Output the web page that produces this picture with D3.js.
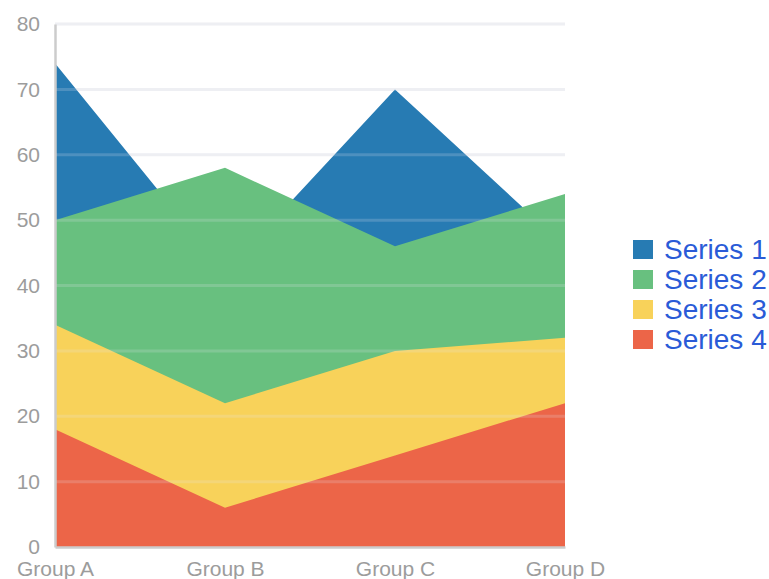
<!DOCTYPE html>
<html>
<head>
<meta charset="utf-8">
<script src="https://cdn.jsdelivr.net/npm/d3@7"></script>
<style>
  html, body { margin: 0; padding: 0; background: #fff; }
  svg { display: block; font-family: "Liberation Sans", Arial, sans-serif; }
</style>
</head>
<body>
<svg id="chart" width="769" height="579"></svg>
<script>
// Categories and series values
const categories = ["Group A", "Group B", "Group C", "Group D"];
const seriesNames = ["Series 1", "Series 2", "Series 3", "Series 4"];
const series1 = [74, 42, 70, 46];
const series2 = [50, 58, 46, 54];
const series3 = [34, 22, 30, 32];
const series4 = [18, 6, 14, 22];
const yTicks = [0, 10, 20, 30, 40, 50, 60, 70, 80];

const colors = ["#277bb3", "#68c07f", "#f8d25a", "#ec6548"];
const allSeries = [series1, series2, series3, series4];

const svg = d3.select("#chart");
const margin = { left: 55, top: 24, right: 204, bottom: 32 };
const W = 769, H = 579;
const innerW = W - margin.left - margin.right;
const innerH = H - margin.top - margin.bottom;

const x = d3.scalePoint().domain(categories).range([0, innerW]);
const y = d3.scaleLinear().domain([0, 80]).range([innerH, 0]);

const g = svg.append("g").attr("transform", `translate(${margin.left},${margin.top})`);

// Background gridlines
g.append("g").selectAll("line").data(yTicks.filter(d => d > 0)).join("line")
  .attr("x1", 0).attr("x2", innerW)
  .attr("y1", d => y(d)).attr("y2", d => y(d))
  .attr("stroke", "#f1f2f4").attr("stroke-width", 3);

// Overlapping areas, first series at the back
const area = d3.area()
  .x((d, i) => x(categories[i]))
  .y0(y(0))
  .y1(d => y(d));

g.append("g").selectAll("path").data(allSeries).join("path")
  .attr("d", d => area(d))
  .attr("fill", (d, i) => colors[i]);

// Gridlines drawn faintly over the areas
g.append("g").selectAll("line").data(yTicks.filter(d => d > 0)).join("line")
  .attr("x1", 0).attr("x2", innerW)
  .attr("y1", d => y(d)).attr("y2", d => y(d))
  .attr("stroke", "#e4e8ee").attr("stroke-opacity", 0.2).attr("stroke-width", 3);

const labelFont = "'Liberation Sans', Arial, sans-serif";

// Y axis
const yAxis = g.append("g").call(d3.axisLeft(y).tickValues(yTicks).tickSize(0).tickPadding(15));
yAxis.select(".domain").attr("stroke", "#cccccc").attr("stroke-width", 2.5);
yAxis.selectAll("text").attr("fill", "#9c9c9c").style("font-size", "21px")
  .style("font-family", labelFont);

// X axis
const xAxis = g.append("g").attr("transform", `translate(0,${innerH})`)
  .call(d3.axisBottom(x).tickSize(0).tickPadding(14));
xAxis.select(".domain").attr("stroke", "#cccccc").attr("stroke-width", 2.5);
xAxis.selectAll("text").attr("fill", "#9c9c9c").style("font-size", "21px")
  .style("font-family", labelFont);

// Legend
const legend = svg.append("g").attr("transform", "translate(633,240)");
const items = legend.selectAll("g").data(seriesNames).join("g")
  .attr("transform", (d, i) => `translate(0,${i * 30})`);
items.append("rect").attr("width", 20).attr("height", 19)
  .attr("fill", (d, i) => colors[i]);
items.append("text").attr("x", 31).attr("y", 9.5).attr("dy", "0.35em")
  .attr("fill", "#2a5bd7").style("font-size", "28px")
  .text(d => d);
</script>
</body>
</html>
